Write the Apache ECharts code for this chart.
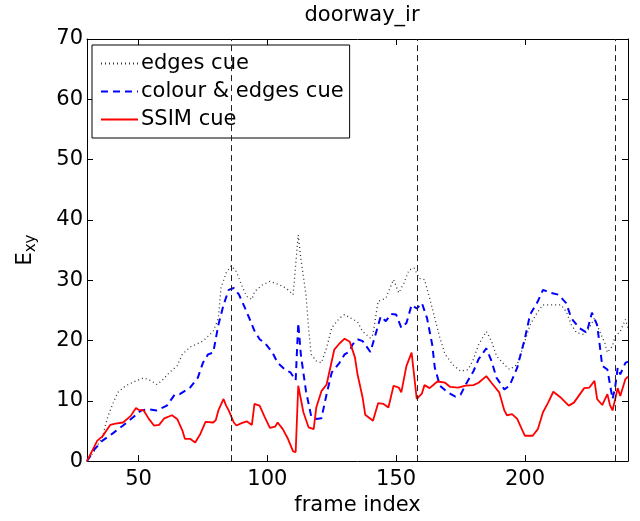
<!DOCTYPE html>
<html>
<head>
<meta charset="utf-8">
<script src="https://cdn.jsdelivr.net/npm/echarts@6/dist/echarts.min.js"></script>
<style>
  html,body{margin:0;padding:0;background:#fff;}
  #chart{width:640px;height:521px;}
</style>
</head>
<body>
<div id="chart"></div>
<script>
// values
var edgesFrames = [30,33,36,38,40,42,45,49,52,55,57,59,62,65,67,70,72,75,77,79,81,82,84,86,88,90,92,94,95,98,101,103,106,108,110,111,112,113,115,116,117,119,121,123,125,128,130,132,135,137,140,141,143,146,147,149,151,153,155,157,159,161,163,165,167,169,172,175,178,180,182,185,187,189,192,194,197,200,202,205,207,210,214,216,218,220,223,225,227,229,231,232,234,235,237,239,240]
var edgesVals = [0,1.8,4.0,7.3,9.5,11.4,12.5,13.3,13.8,13.3,12.7,13.3,14.7,15.8,17.7,18.9,19.3,19.9,20.7,21.5,23.7,28.7,31.2,32.4,31.4,29.2,27.3,26.8,28.1,29.2,29.8,29.5,29.0,28.4,27.6,32.5,37.5,33.6,27.6,22.1,17.7,16.6,16.3,18.8,22.1,23.7,24.3,23.8,23.1,21.5,20.4,21.0,26.5,27.0,28.1,30.1,27.9,29.5,31.7,32.0,30.3,30.1,27.0,23.7,20.4,17.7,16.0,14.9,15.2,16.9,19.3,21.5,19.9,17.4,16.0,15.2,16.0,19.9,22.6,24.8,25.9,25.9,25.9,24.8,22.6,21.3,21.0,22.1,23.7,21.5,19.6,18.0,19.1,20.7,21.5,23.5,22.0]

var colourFrames = [30,33,36,40,44,48,51,54,57,61,64,66,70,73,75,77,79,81,83,85,87,89,91,93,95,97,99,102,104,107,109,111,112,113,115,117,119,121,123,125,128,130,132,133,135,137,140,142,144,146,148,150,152,154,156,158,160,162,164,165,167,170,173,175,177,180,182,185,187,189,192,194,197,200,202,205,207,210,213,216,218,221,224,226,228,229,230,232,233,234,235,236,237,239,240]
var colourVals = [0,2.0,3.4,4.6,5.9,7.3,8.4,8.6,8.4,9.2,11.0,11.1,12.2,13.8,16.3,17.7,18.0,22.6,25.9,28.4,28.7,27.6,25.7,23.7,21.6,20.2,19.6,18.0,16.3,15.1,14.7,13.4,22.9,17.7,11.6,7.5,7.0,7.1,11.1,14.7,16.3,17.7,18.2,19.3,20.2,19.9,18.1,21.0,24.0,23.2,24.4,24.3,22.1,22.9,25.9,25.3,26.2,23.7,19.3,15.5,12.5,11.4,10.7,11.0,12.7,14.9,16.9,18.7,16.6,13.8,11.9,12.5,15.5,20.4,24.3,26.5,28.4,27.9,27.6,26.2,23.7,22.1,21.3,24.6,22.6,19.3,15.8,15.2,12.7,10.3,12.2,15.5,14.4,16.3,16.5]

var ssimFrames = [30,34,36,39,41,44,47,49,50,52,54,56,58,60,63,65,67,68,70,72,74,76,79,80,81,83,84,85,87,88,90,92,94,95,97,99,101,103,104,106,108,110,111,112,114,116,118,119,121,123,126,128,130,132,134,135,137,138,141,143,145,147,149,151,152,154,156,158,160,161,163,166,169,171,174,177,180,182,185,187,190,192,193,195,197,199,200,203,205,207,209,211,214,217,219,223,225,227,228,230,232,233,234,236,237,239,240]
var ssimVals = [0,3.4,4.1,6.0,6.2,6.4,7.5,8.8,8.5,8.4,7.0,5.9,6.0,7.1,7.6,7.0,5.1,3.7,3.7,3.1,4.5,6.5,6.4,6.8,8.4,10.3,9.2,8.4,6.4,5.9,6.3,6.6,6.0,9.5,9.2,7.3,5.5,5.7,6.4,5.3,3.7,1.6,1.5,12.5,8.1,5.6,5.3,8.9,11.6,12.7,18.5,19.5,20.3,19.8,17.2,14.4,10.5,7.7,6.7,9.6,9.5,8.9,12.5,12.2,11.4,15.8,18.0,10.3,11.2,12.6,12.1,13.2,13.0,12.3,12.2,12.5,12.6,13.0,14.1,13.0,11.4,8.4,7.6,7.8,7.0,5.1,4.2,4.2,5.3,8.1,9.7,11.5,10.5,9.2,9.7,12.1,12.2,13.3,10.3,9.3,11.1,9.3,8.4,12.1,10.8,13.6,14.0]

var markFrames = [86, 158, 235]
var xTicks = [50, 100, 150, 200]

function pairs (xs, ys) {
  return xs.map(function (x, i) { return [x, ys[i]] })
}

var font = 'DejaVu Sans, Liberation Sans, Arial, sans-serif'
var myChart = echarts.init(document.getElementById('chart'))

var axisCommon = {
  axisLine: { show: true, onZero: false, lineStyle: { color: '#000', width: 1 } },
  axisTick: { show: true, inside: true, length: 6, lineStyle: { color: '#000' } },
  splitLine: { show: false }
}

var option = {
  animation: false,
  backgroundColor: '#fff',
  textStyle: { fontFamily: font, color: '#000' },
  title: {
    text: 'doorway_ir',
    left: 357,
    top: 0,
    textAlign: 'center',
    textStyle: { fontFamily: font, fontSize: 21, fontWeight: 'normal', color: '#000' }
  },
  legend: {
    orient: 'vertical',
    left: 92,
    top: 45,
    padding: [8, 6, 8, 8],
    itemGap: 7,
    itemWidth: 37,
    itemHeight: 14,
    borderColor: '#000',
    borderWidth: 1,
    backgroundColor: '#fff',
    itemStyle: { opacity: 0 },
    textStyle: { fontFamily: font, fontSize: 21, color: '#000', padding: [0, 0, 0, -2] },
    data: ['edges cue', 'colour & edges cue', 'SSIM cue']
  },
  grid: { left: 87, right: 12, top: 39, bottom: 57 },
  xAxis: [
    Object.assign({}, axisCommon, {
      type: 'value',
      min: 30,
      max: 240,
      position: 'bottom',
      name: 'frame index',
      nameLocation: 'middle',
      nameGap: 33,
      nameTextStyle: { fontFamily: font, fontSize: 21, color: '#000' },
      axisTick: { show: true, inside: true, length: 6, lineStyle: { color: '#000' }, customValues: xTicks },
      axisLabel: { fontFamily: font, fontSize: 21, color: '#000', margin: 8, customValues: xTicks }
    }),
    Object.assign({}, axisCommon, {
      type: 'value',
      min: 30,
      max: 240,
      position: 'top',
      axisTick: { show: true, inside: true, length: 6, lineStyle: { color: '#000' }, customValues: xTicks },
      axisLabel: { show: false }
    })
  ],
  yAxis: [
    Object.assign({}, axisCommon, {
      type: 'value',
      min: 0,
      max: 70,
      interval: 10,
      position: 'left',
      name: '{e|E}{s|xy}',
      nameLocation: 'middle',
      nameGap: 48,
      nameRotate: 90,
      nameTextStyle: {
        rich: {
          e: { fontFamily: font, fontSize: 21, color: '#000' },
          s: { fontFamily: font, fontSize: 15, color: '#000', padding: [12, 0, 0, 0] }
        }
      },
      axisLabel: { fontFamily: font, fontSize: 21, color: '#000', margin: 4 }
    }),
    Object.assign({}, axisCommon, {
      type: 'value',
      min: 0,
      max: 70,
      interval: 10,
      position: 'right',
      axisLabel: { show: false }
    })
  ],
  series: [
    {
      name: 'edges cue',
      type: 'line',
      data: pairs(edgesFrames, edgesVals),
      showSymbol: false,
      symbol: 'none',
      color: '#333',
      lineStyle: { color: '#333', width: 1.3, type: [1, 3] },
      markLine: {
        silent: true,
        symbol: 'none',
        label: { show: false },
        lineStyle: { color: '#222', width: 1, type: [6, 4] },
        data: markFrames.map(function (f) { return { xAxis: f } })
      }
    },
    {
      name: 'colour & edges cue',
      type: 'line',
      data: pairs(colourFrames, colourVals),
      showSymbol: false,
      symbol: 'none',
      color: '#0000ff',
      lineStyle: { color: '#0000ff', width: 2, type: [7, 5] }
    },
    {
      name: 'SSIM cue',
      type: 'line',
      data: pairs(ssimFrames, ssimVals),
      showSymbol: false,
      symbol: 'none',
      color: '#ff0000',
      lineStyle: { color: '#ff0000', width: 1.8 }
    }
  ]
}
myChart.setOption(option)
</script>
</body>
</html>
